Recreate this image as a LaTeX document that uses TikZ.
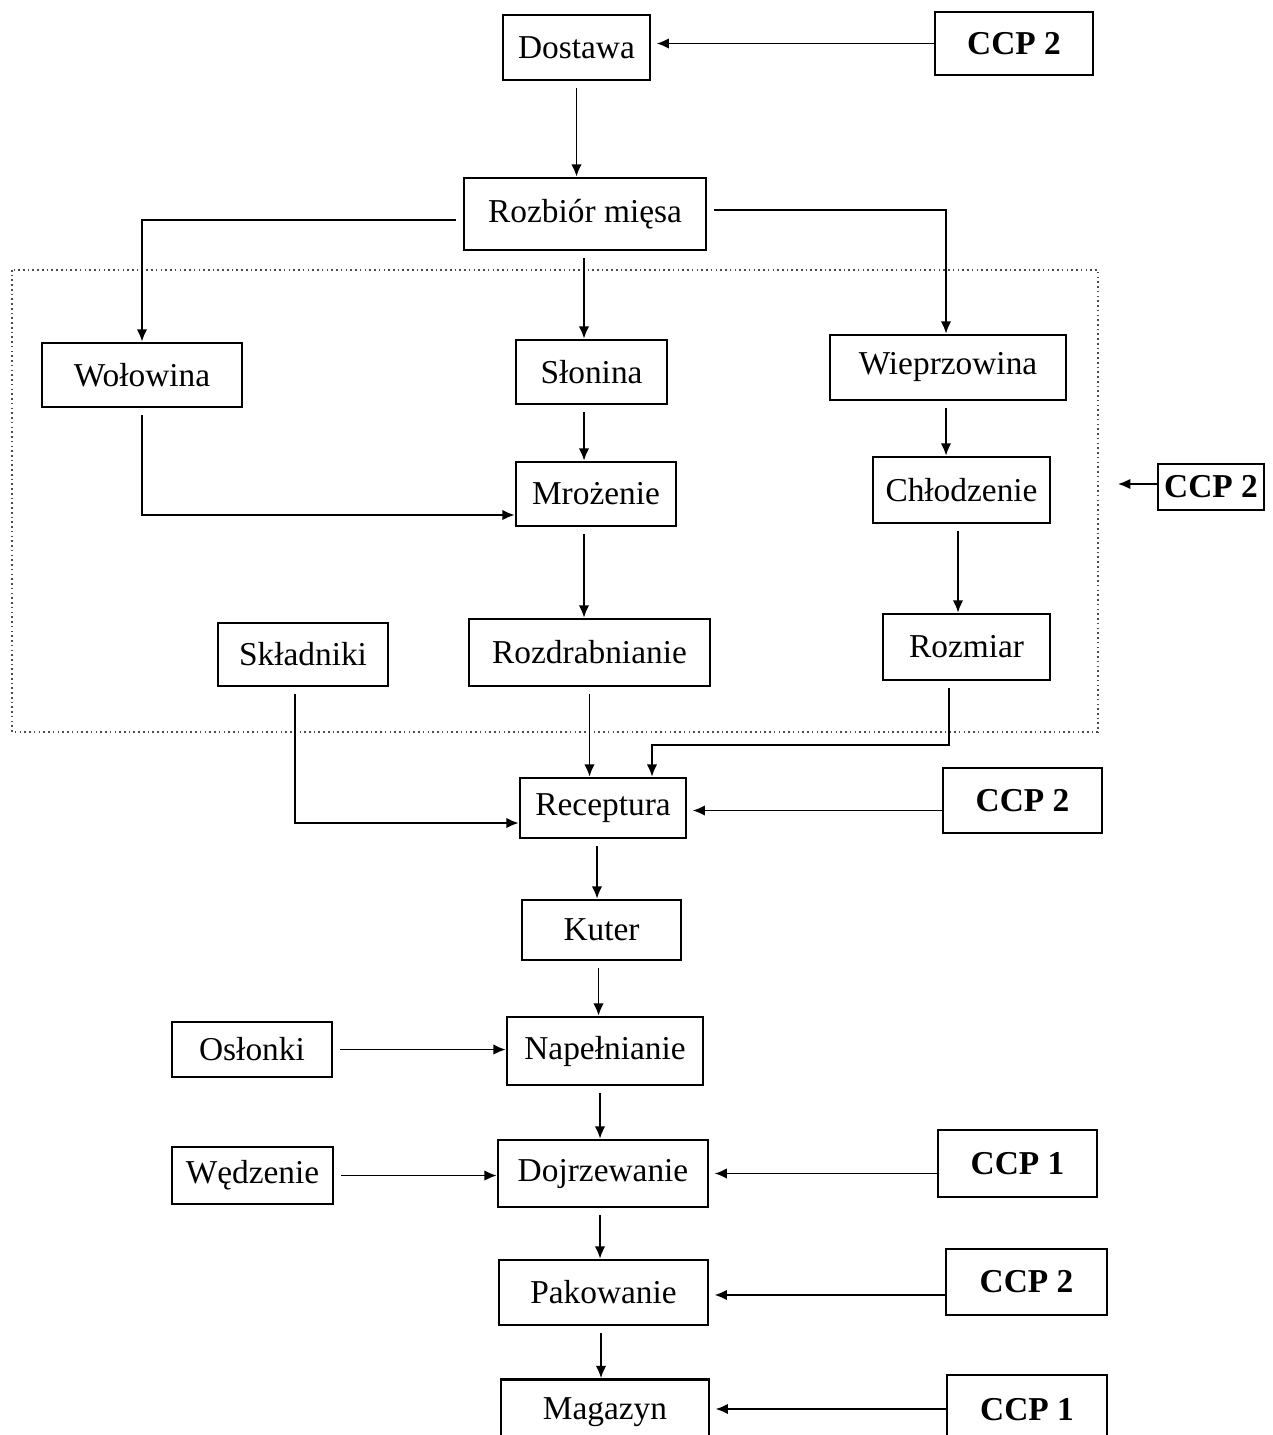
\documentclass[tikz,border=0pt]{standalone}
\usepackage{fontspec}
\setmainfont{Liberation Serif}
\usetikzlibrary{arrows.meta}
\tikzset{
  box/.style={draw,line width=1.5pt,inner sep=0pt,font=\fontsize{19}{22}\selectfont},
  ccp/.style={box,font=\fontsize{19}{22}\selectfont\bfseries},
  arr/.style={line width=1.1pt,-{Latex[length=7pt,width=6pt]}},
}
\begin{document}
\begin{tikzpicture}[x=0.02cm,y=-0.02cm]
  \clip (0,0) rectangle (1272,1435);
  % dotted frame round the raw material part
  \draw[line width=0.9pt,gray!60!black,dash pattern=on 0.9pt off 1.8pt]
    (12,270) rectangle (1098,732);
  % process steps
  \node[box,minimum width=2.94cm,minimum height=1.30cm] (dost) at (576.5,47.5) {Dostawa};
  \node[ccp,minimum width=3.16cm,minimum height=1.26cm] (ccpA) at (1014,43.5) {CCP 2};
  \node[box,minimum width=4.84cm,minimum height=1.44cm] (rozb) at (585,214) {Rozbiór mięsa};
  \node[box,minimum width=4.00cm,minimum height=1.28cm] (wol) at (142,375) {Wołowina};
  \node[box,minimum width=3.02cm,minimum height=1.28cm] (slon) at (591.5,372) {Słonina};
  \node[box,minimum width=4.72cm,minimum height=1.30cm] (wiep) at (948,367.5) {Wieprzowina};
  \node[box,minimum width=3.20cm,minimum height=1.28cm] (mroz) at (596,494) {Mrożenie};
  \node[box,minimum width=3.54cm,minimum height=1.32cm] (chl) at (961.5,490) {Chłodzenie};
  \node[ccp,minimum width=2.12cm,minimum height=0.92cm] (ccpB) at (1211,487) {CCP 2};
  \node[box,minimum width=3.40cm,minimum height=1.26cm] (skl) at (303,654.5) {Składniki};
  \node[box,minimum width=4.82cm,minimum height=1.34cm] (rozd) at (589.5,652.5) {Rozdrabnianie};
  \node[box,minimum width=3.34cm,minimum height=1.32cm] (rozm) at (966.5,647) {Rozmiar};
  \node[box,minimum width=3.32cm,minimum height=1.20cm] (rec) at (603,808) {Receptura};
  \node[ccp,minimum width=3.18cm,minimum height=1.30cm] (ccpC) at (1022.5,800.5) {CCP 2};
  \node[box,minimum width=3.18cm,minimum height=1.20cm] (kut) at (601.5,930) {Kuter};
  \node[box,minimum width=3.20cm,minimum height=1.10cm] (osl) at (252,1049.5) {Osłonki};
  \node[box,minimum width=3.92cm,minimum height=1.36cm] (nap) at (605,1051) {Napełnianie};
  \node[box,minimum width=3.22cm,minimum height=1.14cm] (wedz) at (252.5,1175.5) {Wędzenie};
  \node[box,minimum width=4.20cm,minimum height=1.34cm] (dojr) at (603,1173.5) {Dojrzewanie};
  \node[ccp,minimum width=3.18cm,minimum height=1.34cm] (ccpD) at (1017.5,1163.5) {CCP 1};
  \node[box,minimum width=4.18cm,minimum height=1.30cm] (pak) at (603.5,1292.5) {Pakowanie};
  \node[ccp,minimum width=3.22cm,minimum height=1.32cm] (ccpE) at (1026.5,1282) {CCP 2};
  \node[box,minimum width=4.16cm,minimum height=1.30cm] (mag) at (605,1412) {Magazyn};
  \node[ccp,minimum width=3.20cm,minimum height=1.40cm] (ccpF) at (1027,1410) {CCP 1};
  % helper points
  \coordinate (trunk) at (584,0);
  \coordinate (chlIn) at (1118,484);
  \coordinate (rzb) at (652,745);
  % main line
  \draw[arr,shorten <=4pt] (dost.south) -- (dost.south |- rozb.north);
  \draw[arr,shorten <=4pt] (rozb.south -| trunk) -- (trunk |- slon.north);
  \draw[arr,shorten <=4pt] (slon.south -| trunk) -- (trunk |- mroz.north);
  \draw[arr,shorten <=4pt] (mroz.south -| trunk) -- (trunk |- rozd.north);
  \draw[arr,shorten <=4pt] (rozd.south) -- (rozd.south |- rec.north);
  \draw[arr,shorten <=4pt] ([xshift=-0.12cm]rec.south) -- ([xshift=-0.12cm]rec.south |- kut.north);
  \draw[arr,shorten <=4pt] ([xshift=-0.06cm]kut.south) -- ([xshift=-0.06cm]kut.south |- nap.north);
  \draw[arr,shorten <=4pt] ([xshift=-0.1cm]nap.south) -- ([xshift=-0.1cm]nap.south |- dojr.north);
  \draw[arr,shorten <=4pt] ([xshift=-0.06cm]dojr.south) -- ([xshift=-0.06cm]dojr.south |- pak.north);
  \draw[arr,shorten <=4pt] ([xshift=-0.05cm]pak.south) -- ([xshift=-0.05cm]pak.south |- mag.north);
  % branches
  \draw[arr,shorten <=4pt] ([yshift=-0.12cm]rozb.west) -| (wol.north);
  \draw[arr,shorten <=4pt] ([yshift=0.08cm]rozb.east) -| ([xshift=-0.04cm]wiep.north);
  \draw[arr,shorten <=4pt] (wol.south) |- ([yshift=-0.42cm]mroz.west);
  \draw[arr,shorten <=4pt] ([xshift=-0.04cm]wiep.south) -- ([xshift=-0.04cm]wiep.south |- chl.north);
  \draw[arr,shorten <=4pt] ([xshift=-0.07cm]chl.south) -- ([xshift=-0.07cm]chl.south |- rozm.north);
  \draw[arr,shorten <=4pt] ([xshift=-0.35cm]rozm.south) |- (rzb) -- (rzb |- rec.north);
  \draw[arr,shorten <=4pt] ([xshift=-0.16cm]skl.south) |- ([yshift=-0.3cm]rec.west);
  \draw[arr,shorten <=4pt] (osl.east) -- (osl.east -| nap.west);
  \draw[arr,shorten <=4pt] (wedz.east) -- (wedz.east -| dojr.west);
  % control points
  \draw[arr,shorten >=3pt] (ccpA.west) -- (ccpA.west -| dost.east);
  \draw[arr] (ccpB.west |- chlIn) -- (chlIn);
  \draw[arr,shorten >=3pt] ([yshift=-0.2cm]ccpC.west) -- ([yshift=-0.2cm]ccpC.west -| rec.east);
  \draw[arr,shorten >=3pt] (dojr.east -| ccpD.west) -- (dojr.east);
  \draw[arr,shorten >=3pt] ([yshift=-0.26cm]ccpE.west) -- ([yshift=-0.26cm]ccpE.west -| pak.east);
  \draw[arr,shorten >=3pt] ([yshift=0.06cm]mag.east -| ccpF.west) -- ([yshift=0.06cm]mag.east);
\end{tikzpicture}
\end{document}
